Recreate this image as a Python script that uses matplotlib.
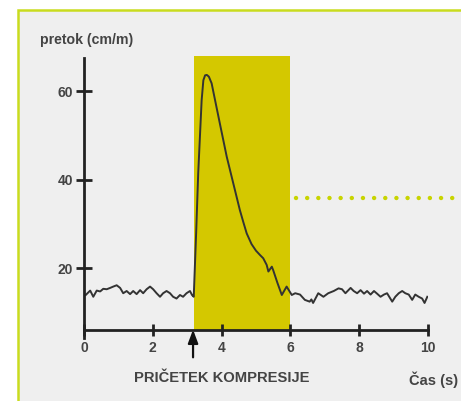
import matplotlib
matplotlib.use("Agg")
import matplotlib.pyplot as plt
from matplotlib.patches import Rectangle

# flow trace
time_s = [0.05, 0.18, 0.27, 0.37, 0.47, 0.56, 0.66, 0.76, 0.85, 0.95,
          1.05, 1.14, 1.24, 1.34, 1.43, 1.53, 1.63, 1.72, 1.82, 1.92,
          2.01, 2.11, 2.21, 2.30, 2.40, 2.50, 2.59, 2.69, 2.79, 2.88,
          2.98, 3.08, 3.14, 3.19,
          3.26, 3.32, 3.42, 3.47, 3.52, 3.57, 3.63, 3.71, 3.81, 3.95,
          4.15, 4.34, 4.53, 4.63, 4.73, 4.87, 5.00, 5.12, 5.21, 5.31,
          5.36, 5.46, 5.50, 5.62, 5.75, 5.89,
          6.04, 6.14, 6.28, 6.42, 6.56, 6.61, 6.66, 6.81, 6.96, 7.10,
          7.26, 7.40, 7.50, 7.60, 7.75, 7.84, 7.94, 8.04, 8.14, 8.23,
          8.33, 8.43, 8.52, 8.62, 8.72, 8.81, 8.96, 9.05, 9.15, 9.25,
          9.34, 9.44, 9.54, 9.63, 9.73, 9.83, 9.90, 9.98]
flow = [14.0, 15.0, 13.6, 15.0, 14.8, 15.4, 15.3, 15.6, 15.9, 16.2,
        15.6, 14.4, 14.9, 14.2, 14.9, 14.2, 15.1, 14.4, 15.3, 15.9,
        15.3, 14.4, 13.6, 14.4, 14.9, 14.4, 13.6, 13.2, 14.0, 13.6,
        14.4, 14.9, 14.0, 13.6,
        28.0, 41.5, 58.0, 62.5, 63.6, 63.7, 63.3, 61.8, 58.0, 52.7,
        45.2, 39.2, 33.2, 30.5, 27.9, 25.5, 24.0, 23.0, 22.3, 20.8,
        19.3, 20.4, 19.6, 16.8, 14.0, 15.9,
        14.0, 14.4, 14.1, 12.9, 12.5, 13.0, 12.2, 14.4, 13.6, 14.4,
        14.9, 15.5, 15.3, 14.4, 15.6, 14.9, 14.4, 15.1, 14.3, 14.9,
        14.1, 14.9, 14.3, 13.6, 14.1, 14.4, 12.5, 13.6, 14.4, 14.9,
        14.4, 14.1, 12.9, 14.1, 13.6, 13.2, 12.2, 13.6]

x_ticks = [0, 2, 4, 6, 8, 10]
y_ticks = [20, 40, 60]
compression_start = 3.2
compression_end = 6.0
band_top = 67.9
ref_level = 35.8

fig = plt.figure(figsize=(4.61, 4.01), dpi=100)
fig.patch.set_facecolor("white")

# light panel with yellow-green frame on top/left
fig.patches.append(Rectangle((18 / 461, -0.1), 1.2, 1 - 10 / 401 + 0.1,
                             transform=fig.transFigure, facecolor="#efefef",
                             edgecolor="#c9dc1e", linewidth=1.8, zorder=-5))

ax = fig.add_axes([84 / 461, 44 / 401, 344 / 461, 310 / 401])
ax.set_facecolor("none")
ax.set_xlim(0, 10)
ax.set_ylim(0, 70)

ax.add_patch(Rectangle((compression_start, 6), compression_end - compression_start,
                       band_top - 6, facecolor="#d4c800", edgecolor="none", zorder=1))

ax.plot(time_s, flow, color="#333333", linewidth=1.4, zorder=3)

ax.plot([6.16, 11.3], [ref_level, ref_level], linestyle=(0, (0.01, 2.5)),
        dash_capstyle="round", color="#c8d400", linewidth=3.2, clip_on=False, zorder=2)

for s in ["top", "right"]:
    ax.spines[s].set_visible(False)
ax.spines["bottom"].set_position(("data", 6))
ax.spines["bottom"].set_bounds(0, 10)
ax.spines["left"].set_bounds(4.2, 67.5)
for s in ["bottom", "left"]:
    ax.spines[s].set_linewidth(2.0)
    ax.spines[s].set_color("#222222")
    ax.spines[s].set_zorder(4)

ax.set_xticks(x_ticks)
ax.set_yticks(y_ticks)
ax.tick_params(axis="x", direction="inout", length=9, width=2.0, color="#222222",
               pad=3, labelsize=10, labelcolor="#444444")
ax.tick_params(axis="y", direction="inout", length=12, width=2.0, color="#222222",
               pad=2, labelsize=10, labelcolor="#444444")

for lbl in ax.get_xticklabels() + ax.get_yticklabels():
    lbl.set_fontfamily("Liberation Sans")
    lbl.set_fontweight("bold")

ax.annotate("", xy=(compression_start - 0.03, 6.8), xytext=(compression_start - 0.03, -0.7),
            arrowprops=dict(arrowstyle="-|>,head_length=0.8,head_width=0.3",
                            color="#111111", lw=1.6),
            annotation_clip=False)

fig.text(40 / 461, 1 - 40 / 401, "pretok (cm/m)", fontsize=10.2, color="#444444",
         family="Liberation Sans", weight="bold", va="center", ha="left")
fig.text(222 / 461, 1 - 378 / 401, "PRIČETEK KOMPRESIJE", fontsize=10.6, color="#444444",
         family="Liberation Sans", weight="bold", va="center", ha="center")
fig.text(409 / 461, 1 - 380 / 401, "Čas (s)", fontsize=10.5, color="#444444",
         family="Liberation Sans", weight="bold", va="center", ha="left")

fig.savefig("out.png", dpi=100)
